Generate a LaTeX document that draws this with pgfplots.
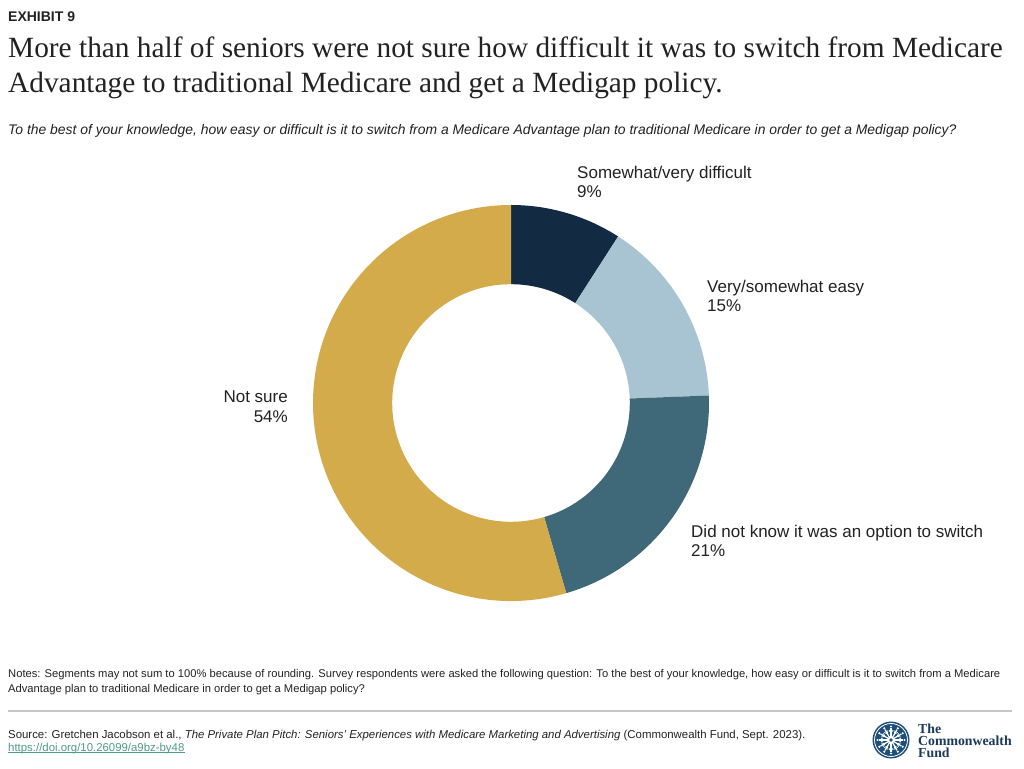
\documentclass[border=0pt]{standalone}
\usepackage{pgfplots}
\pgfplotsset{compat=1.18}
\usepackage{pgfplotstable}
\usepackage{fontspec}
\setmainfont{Liberation Sans}
\newfontfamily\seriffont{Liberation Serif}
\definecolor{cnavy}{HTML}{132A43}
\definecolor{clight}{HTML}{A8C3D1}
\definecolor{cteal}{HTML}{3F6878}
\definecolor{cgold}{HTML}{D3AB4B}
\definecolor{ctext}{HTML}{222222}
\definecolor{clink}{HTML}{4F9C8C}
\definecolor{clogo}{HTML}{1F4E79}
\definecolor{clogotext}{HTML}{1B3A5C}
\pgfplotstableread{
label value
difficult 9.1
easy 15.3
notknow 21.1
notsure 54.5
}\datatable
\begin{document}
\begin{tikzpicture}[x=1pt,y=1pt]
\fill[white] (0,0) rectangle (1024,768);
% data -> angles (clockwise from top)
\pgfplotstablegetelem{0}{value}\of\datatable \let\vA\pgfplotsretval
\pgfplotstablegetelem{1}{value}\of\datatable \let\vB\pgfplotsretval
\pgfplotstablegetelem{2}{value}\of\datatable \let\vC\pgfplotsretval
\pgfplotstablegetelem{3}{value}\of\datatable \let\vD\pgfplotsretval
\pgfmathsetmacro\aA{90}
\pgfmathsetmacro\aB{\aA-3.6*\vA}
\pgfmathsetmacro\aC{\aB-3.6*\vB}
\pgfmathsetmacro\aD{\aC-3.6*\vC}
\pgfmathsetmacro\aE{\aD-3.6*\vD}
\def\ri{0.6}
\begin{axis}[at={(511pt,365pt)}, anchor=center, hide axis, scale only axis,
  width=396pt, height=396pt, xmin=-1, xmax=1, ymin=-1, ymax=1, clip=false]
\addplot[draw=none] coordinates {(0,0)};
\fill[cnavy] (axis cs:{cos(\aA)},{sin(\aA)}) arc[start angle=\aA, end angle=\aB, radius=198pt]
  -- (axis cs:{\ri*cos(\aB)},{\ri*sin(\aB)}) arc[start angle=\aB, end angle=\aA, radius=118.8pt] -- cycle;
\fill[clight] (axis cs:{cos(\aB)},{sin(\aB)}) arc[start angle=\aB, end angle=\aC, radius=198pt]
  -- (axis cs:{\ri*cos(\aC)},{\ri*sin(\aC)}) arc[start angle=\aC, end angle=\aB, radius=118.8pt] -- cycle;
\fill[cteal] (axis cs:{cos(\aC)},{sin(\aC)}) arc[start angle=\aC, end angle=\aD, radius=198pt]
  -- (axis cs:{\ri*cos(\aD)},{\ri*sin(\aD)}) arc[start angle=\aD, end angle=\aC, radius=118.8pt] -- cycle;
\fill[cgold] (axis cs:{cos(\aD)},{sin(\aD)}) arc[start angle=\aD, end angle=\aE, radius=198pt]
  -- (axis cs:{\ri*cos(\aE)},{\ri*sin(\aE)}) arc[start angle=\aE, end angle=\aD, radius=118.8pt] -- cycle;
\end{axis}
% header
\node[anchor=base west, inner sep=0, text=ctext, font=\fontsize{14}{16}\selectfont\bfseries] at (8,746) {EXHIBIT 9};
\node[anchor=base west, inner sep=0, text=ctext, font=\fontsize{29.35}{34}\selectfont\seriffont] at (8,710) {More than half of seniors were not sure how difficult it was to switch from Medicare};
\node[anchor=base west, inner sep=0, text=ctext, font=\fontsize{29.35}{34}\selectfont\seriffont] at (8,675) {Advantage to traditional Medicare and get a Medigap policy.};
\node[anchor=base west, inner sep=0, text=ctext, font=\fontsize{13.9}{16}\selectfont\itshape] at (8,633) {To the best of your knowledge, how easy or difficult is it to switch from a Medicare Advantage plan to traditional Medicare in order to get a Medigap policy?};
% labels
\begin{scope}[every node/.style={inner sep=0, text=ctext, font=\fontsize{17}{19}\selectfont}]
\node[anchor=base west] at (577,589) {Somewhat/very difficult};
\node[anchor=base west] at (577,570) {9\%};
\node[anchor=base west] at (707,475) {Very/somewhat easy};
\node[anchor=base west] at (707,456) {15\%};
\node[anchor=base east] at (288,365) {Not sure};
\node[anchor=base east] at (288,345) {54\%};
\node[anchor=base west] at (691,230) {Did not know it was an option to switch};
\node[anchor=base west] at (691,211) {21\%};
\end{scope}
% notes
\node[anchor=base west, inner sep=0, text=ctext, font=\fontsize{11.2}{13}\selectfont] at (8,91) {Notes: Segments may not sum to 100\% because of rounding. Survey respondents were asked the following question: To the best of your knowledge, how easy or difficult is it to switch from a Medicare};
\node[anchor=base west, inner sep=0, text=ctext, font=\fontsize{11.2}{13}\selectfont] at (8,76) {Advantage plan to traditional Medicare in order to get a Medigap policy?};
\draw[color=black!22, line width=1.2pt] (8,57) -- (1012,57);
\node[anchor=base west, inner sep=0, text=ctext, font=\fontsize{11.4}{13}\selectfont] at (8,30) {Source: Gretchen Jacobson et al., \textit{The Private Plan Pitch: Seniors' Experiences with Medicare Marketing and Advertising} (Commonwealth Fund, Sept. 2023).};
\node[anchor=base west, inner sep=0, text=clink, font=\fontsize{11.4}{13}\selectfont] (lnk) at (8,17) {https://doi.org/10.26099/a9bz-by48};
\draw[clink, line width=0.5pt] ([yshift=-1.5pt]lnk.base west) -- ([yshift=-1.5pt]lnk.base east);
% logo
\fill[clogo] (891,28) circle (18.5);
\draw[white, line width=0.8pt] (891,28) circle (16.5);
\foreach \a in {0,30,...,330}{
  \draw[white, line width=1.3pt] (891,28) -- ++(\a:12);
  \fill[white] (891,28) ++(\a:13.5) circle (1.2);
  \draw[white, line width=0.8pt] (891,28) ++(\a:7) -- ++(\a+35:3.5);
  \draw[white, line width=0.8pt] (891,28) ++(\a:7) -- ++(\a-35:3.5);
}
\fill[white] (891,28) circle (3.5);
\fill[clogo] (891,28) circle (1.8);
\node[anchor=north west, inner sep=0, text=clogotext, align=left,
  font=\fontsize{13.8}{12}\selectfont\seriffont\bfseries] at (918,44.5) {The\\Commonwealth\\Fund};
\end{tikzpicture}
\end{document}
